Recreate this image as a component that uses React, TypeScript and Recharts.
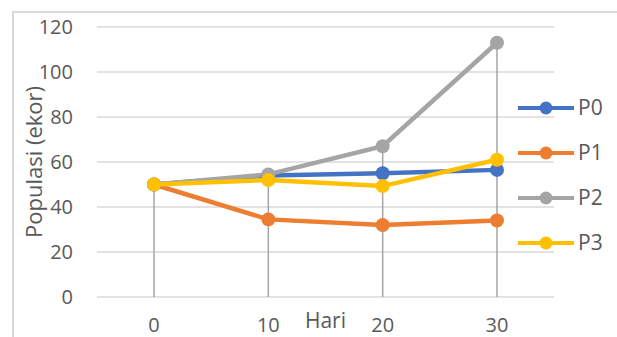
import React from 'react';
import {
  LineChart,
  Line,
  XAxis,
  YAxis,
  CartesianGrid,
  Legend,
  ReferenceLine
} from 'recharts';

const hari = ['0', '10', '20', '30'];
const p0 = [50, 54, 55, 56.5];
const p1 = [50, 34.5, 32, 34];
const p2 = [50, 54.5, 67, 113];
const p3 = [50, 52, 49.3, 61];
const yTicks = [0, 20, 40, 60, 80, 100, 120];

const seriesNames = ['P0', 'P1', 'P2', 'P3'];
const seriesColors = ['#4472C4', '#ED7D31', '#A5A5A5', '#FFC000'];

const data = hari.map((h, i) => ({ hari: h, P0: p0[i], P1: p1[i], P2: p2[i], P3: p3[i] }));

const font = '"Open Sans", sans-serif';
const textColor = '#595959';

const LegendContent = (props: any) => {
  const items = props.payload || [];
  return (
    <div>
      {items.map((it: any) => (
        <div key={it.value} style={{ display: 'flex', alignItems: 'center', height: 45 }}>
          <svg width={56} height={16}>
            <line x1={0} y1={8} x2={56} y2={8} stroke={it.color} strokeWidth={4} strokeLinecap="round" />
            <circle cx={28} cy={8} r={6.5} fill={it.color} />
          </svg>
          <span style={{ marginLeft: 4, fontFamily: font, fontSize: 21, color: textColor, lineHeight: 1 }}>
            {it.value}
          </span>
        </div>
      ))}
    </div>
  );
};

export default function App() {
  return (
    <div style={{ position: 'absolute', left: 0, top: 0, width: 617, height: 337, background: '#fff', overflow: 'hidden' }}>
      <div
        style={{
          position: 'absolute',
          left: 12,
          top: 11,
          width: 620,
          height: 340,
          borderLeft: '2px solid #d9d9d9',
          borderTop: '2px solid #d9d9d9',
          boxSizing: 'border-box'
        }}
      />
      <LineChart
        width={617}
        height={337}
        data={data}
        margin={{ top: 27, right: 63, left: 12, bottom: 0 }}
        style={{ position: 'absolute', left: 0, top: 0, fontFamily: font }}
      >
        <CartesianGrid vertical={false} stroke="#d9d9d9" strokeWidth={1.5} />
        <XAxis
          dataKey="hari"
          height={40}
          padding={{ left: 57, right: 57 }}
          axisLine={false}
          tickLine={false}
          tickSize={0}
          tickMargin={21}
          tick={{ fill: textColor, fontSize: 20, fontFamily: font }}
          label={{ value: 'Hari', position: 'insideBottom', offset: 9, fill: textColor, fontSize: 21, fontFamily: font }}
        />
        <YAxis
          width={85}
          domain={[0, 120]}
          ticks={yTicks}
          interval={0}
          axisLine={false}
          tickLine={false}
          tickSize={0}
          tickMargin={24}
          tick={{ fill: textColor, fontSize: 20, fontFamily: font }}
          label={{ value: 'Populasi (ekor)', angle: -90, position: 'center', dx: -20, fill: textColor, fontSize: 22, fontFamily: font }}
        />
        {hari.map((h, i) => (
          <ReferenceLine
            key={h}
            segment={[
              { x: h, y: 0 },
              { x: h, y: Math.max(p0[i], p1[i], p2[i], p3[i]) }
            ]}
            stroke="#A5A5A5"
            strokeWidth={1.5}
          />
        ))}
        <Legend
          layout="horizontal"
          align="center"
          verticalAlign="middle"
          content={<LegendContent />}
          wrapperStyle={{ left: 518, top: 85, width: 90, height: 180 }}
        />
        {seriesNames.map((name, i) => (
          <Line
            key={name}
            dataKey={name}
            name={name}
            type="linear"
            stroke={seriesColors[i]}
            strokeWidth={4.5}
            dot={{ r: 7, fill: seriesColors[i], stroke: seriesColors[i], strokeWidth: 0 }}
            activeDot={false}
            isAnimationActive={false}
          />
        ))}
      </LineChart>
    </div>
  );
}
